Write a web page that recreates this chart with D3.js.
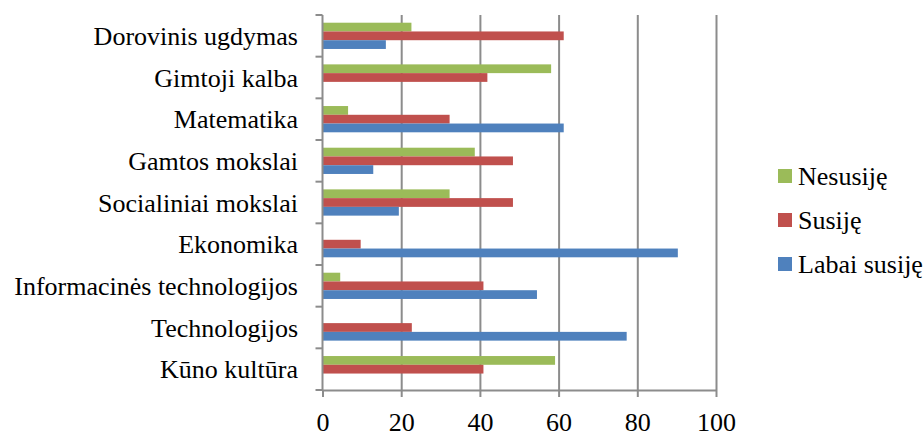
<!DOCTYPE html>
<html>
<head>
<meta charset="utf-8">
<script src="https://cdn.jsdelivr.net/npm/d3@7/dist/d3.min.js"></script>
<style>
html,body{margin:0;padding:0;background:#fff;}
svg{display:block;font-family:"Liberation Serif","Times New Roman",serif;}
</style>
</head>
<body>
<svg id="chart" width="924" height="432" font-family="Liberation Serif, Times New Roman, serif"></svg>
<script>
const categories = ["Dorovinis ugdymas","Gimtoji kalba","Matematika","Gamtos mokslai","Socialiniai mokslai","Ekonomika","Informacinės technologijos","Technologijos","Kūno kultūra"];
const seriesNames = ["Nesusiję","Susiję","Labai susiję"];
const nesusije = [22.6, 58.1, 6.5, 38.7, 32.3, 0, 4.5, 0, 59.1];
const susije = [61.3, 41.9, 32.3, 48.4, 48.4, 9.7, 40.9, 22.7, 40.9];
const labaiSusije = [16.1, 0, 61.3, 12.9, 19.4, 90.3, 54.5, 77.3, 0];
const xTicks = [0, 20, 40, 60, 80, 100];
const colors = ["#9BBB59", "#C0504D", "#4F81BD"];

(function () {
const seriesValues = [nesusije, susije, labaiSusije];
const svg = d3.select("#chart");
const mLeft = 322.5, mRight = 716, mTop = 15, mBottom = 390;
const serif = "Liberation Serif, Times New Roman, serif";

const x = d3.scaleLinear().domain([0, 100]).range([mLeft, mRight]);
const y = d3.scaleBand().domain(categories).range([mTop, mBottom]).padding(0);
const ySub = d3.scaleBand().domain(seriesNames).range([0, y.bandwidth()]).paddingInner(0).paddingOuter(0.88);

// gridlines
const grid = svg.append("g").attr("transform", `translate(0,${mBottom})`)
  .call(d3.axisBottom(x).tickValues(xTicks.slice(1)).tickSize(-(mBottom - mTop)).tickFormat(""));
grid.select(".domain").remove();
grid.selectAll("line").attr("stroke", "#8c8c8c").attr("stroke-width", 2);

// bars
const rows = categories.map((c, i) => ({cat: c, vals: seriesNames.map((s, j) => ({s, v: seriesValues[j][i], j}))}));
const g = svg.append("g").selectAll("g").data(rows).join("g")
  .attr("transform", d => `translate(0,${y(d.cat)})`);
g.selectAll("rect").data(d => d.vals.filter(e => e.v > 0)).join("rect")
  .attr("x", x(0))
  .attr("y", d => ySub(d.s))
  .attr("width", d => x(d.v) - x(0))
  .attr("height", ySub.bandwidth())
  .attr("fill", d => colors[d.j]);

// x axis
const xa = svg.append("g").attr("transform", `translate(0,${mBottom})`)
  .call(d3.axisBottom(x).tickValues(xTicks).tickSize(7).tickSizeOuter(0).tickPadding(15.5));
xa.attr("font-family", serif);
xa.select(".domain").attr("stroke", "#8c8c8c").attr("stroke-width", 2);
xa.selectAll("line").attr("stroke", "#8c8c8c").attr("stroke-width", 2);
xa.selectAll("text").attr("font-size", 26).attr("fill", "#000").attr("font-family", serif).attr("dy", "0.71em");

// y axis line with ticks at category boundaries
const ya = svg.append("g").attr("transform", `translate(${mLeft},0)`).attr("font-family", serif);
ya.append("line").attr("x1", 0).attr("x2", 0).attr("y1", mTop).attr("y2", mBottom).attr("stroke", "#8c8c8c").attr("stroke-width", 2);
const bounds = categories.map(c => y(c)).concat([mBottom]);
ya.selectAll("line.t").data(bounds).join("line").attr("class", "t")
  .attr("x1", -7).attr("x2", 0).attr("y1", d => d).attr("y2", d => d)
  .attr("stroke", "#8c8c8c").attr("stroke-width", 2);
ya.selectAll("text").data(categories).join("text")
  .attr("x", -24.5)
  .attr("y", d => y(d) + y.bandwidth() / 2 + 9)
  .attr("text-anchor", "end")
  .attr("font-size", 26)
  .attr("font-family", serif)
  .attr("fill", "#000")
  .text(d => d);

// legend
const legend = svg.append("g").attr("transform", "translate(778,176)").attr("font-family", serif);
const li = legend.selectAll("g").data(seriesNames).join("g")
  .attr("transform", (d, i) => `translate(0,${i * 44})`);
li.append("rect").attr("x", 0).attr("y", -7).attr("width", 14).attr("height", 14).attr("fill", (d, i) => colors[i]);
li.append("text").attr("x", 20).attr("y", 9).attr("font-size", 26).attr("font-family", serif).attr("fill", "#000").text(d => d);
})();
</script>
</body>
</html>
